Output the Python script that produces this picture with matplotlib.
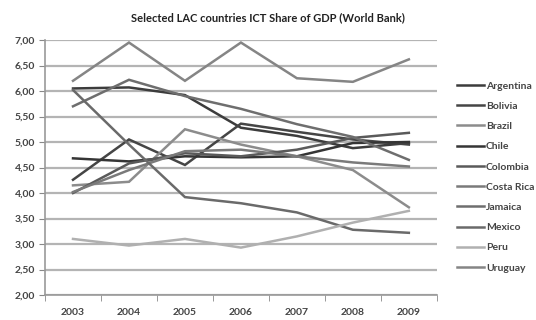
import numpy as np
import matplotlib
matplotlib.use("Agg")
import matplotlib.pyplot as plt

plt.rcParams['font.family'] = ['Lato', 'DejaVu Sans']

years = ["2003", "2004", "2005", "2006", "2007", "2008", "2009"]

argentina = [6.05, 6.07, 5.92, 5.28, 5.12, 4.88, 4.98]
bolivia = [4.26, 5.05, 4.55, 5.36, 5.20, 5.05, 4.95]
brazil = [4.15, 4.22, 5.25, 4.95, 4.72, 4.45, 3.72]
chile = [4.68, 4.62, 4.72, 4.70, 4.72, 4.98, 5.00]
colombia = [4.00, 4.58, 4.78, 4.72, 4.85, 5.08, 5.18]
costa_rica = [4.02, 4.45, 4.82, 4.85, 4.72, 4.60, 4.52]
jamaica = [5.70, 6.22, 5.90, 5.65, 5.35, 5.10, 4.65]
mexico = [6.02, 4.95, 3.92, 3.80, 3.62, 3.28, 3.22]
peru = [3.10, 2.97, 3.10, 2.93, 3.15, 3.42, 3.65]
uruguay = [6.20, 6.95, 6.20, 6.95, 6.25, 6.18, 6.62]

names = ["Argentina", "Bolivia", "Brazil", "Chile", "Colombia",
         "Costa Rica", "Jamaica", "Mexico", "Peru", "Uruguay"]
series = [argentina, bolivia, brazil, chile, colombia,
          costa_rica, jamaica, mexico, peru, uruguay]
colors = ["#3c3c3c", "#454545", "#8c8c8c", "#353535", "#5a5a5a",
          "#7a7a7a", "#6e6e6e", "#6a6a6a", "#b0b0b0", "#858585"]

fig = plt.figure(figsize=(5.36, 3.2), dpi=100)
ax = fig.add_axes([0.084, 0.078, 0.731, 0.797])

x = np.arange(len(years))
for name, vals, c in zip(names, series, colors):
    ax.plot(x, vals, color=c, lw=1.8, label=name, solid_joinstyle='miter')

ax.set_xlim(-0.5, len(years) - 0.5)
ax.set_ylim(2.0, 7.0)
ax.set_yticks(np.arange(2.0, 7.01, 0.5))
ax.set_yticklabels([f"{v:.2f}".replace(".", ",") for v in np.arange(2.0, 7.01, 0.5)])
ax.set_xticks(x)
ax.set_xticklabels(years)
ax.set_xticks(np.arange(-0.5, len(years)), minor=True)
ax.tick_params(axis='x', which='major', length=0, pad=9)
ax.tick_params(axis='x', which='minor', length=4, color="#888888")
ax.tick_params(axis='y', length=4, color="#888888", pad=3)
for lab in ax.get_xticklabels() + ax.get_yticklabels():
    lab.set_fontsize(7.5)
    lab.set_fontweight('bold')
    lab.set_color("#444444")

ax.grid(axis='y', color="#b4b4b4", lw=1.6)
ax.set_axisbelow(True)
for s in ["top", "right"]:
    ax.spines[s].set_visible(False)
ax.spines["left"].set_color("#999999")
ax.spines["bottom"].set_color("#999999")
ax.spines["left"].set_linewidth(1.2)
ax.spines["bottom"].set_linewidth(1.2)

leg = fig.legend(loc="upper left", bbox_to_anchor=(0.835, 0.775), frameon=False,
                 fontsize=7.5, handlelength=2.6, handletextpad=0.2,
                 labelspacing=1.05)
for t in leg.get_texts():
    t.set_color("#444444")
    t.set_fontweight('bold')

fig.text(0.5, 0.945, "Selected LAC countries ICT Share of GDP (World Bank)",
         ha="center", va="center", fontsize=8, fontweight="bold", color="#222222")

fig.savefig("out.png", dpi=100)
